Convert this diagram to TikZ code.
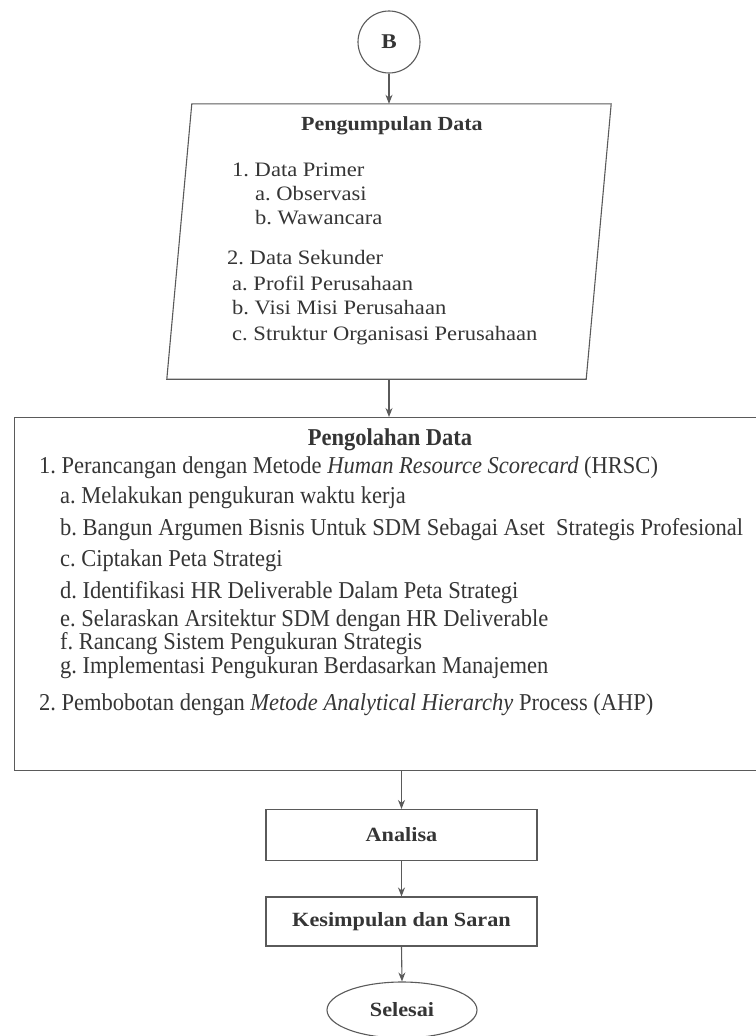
\documentclass[tikz,border=0pt]{standalone}
\usepackage{fontspec}
\setmainfont{Liberation Serif}
\newfontfamily\wideserif[FakeStretch=1.1]{Liberation Serif}
\newfontfamily\narrowserif[FakeStretch=0.93]{Liberation Serif}
\usetikzlibrary{arrows.meta,calc,shapes.geometric}
\definecolor{linec}{HTML}{5A5A5A}
\definecolor{textc}{HTML}{353535}
\frenchspacing
\tikzset{
  every node/.style={text=textc},
  arr/.style={draw=linec, line width=1.1pt, -{Stealth[length=9pt,width=7pt]}},
  frame/.style={draw=linec, line width=1.1pt},
  wtext/.style={font=\wideserif\fontsize{20.5}{23}\selectfont, anchor=base west, inner sep=0pt},
  wtitle/.style={font=\wideserif\bfseries\fontsize{20}{23}\selectfont, inner sep=0pt},
  btext/.style={font=\narrowserif\fontsize{24.2}{28}\selectfont, anchor=base west, inner sep=0pt},
  btitle/.style={font=\narrowserif\bfseries\fontsize{24.2}{28}\selectfont, anchor=base, inner sep=0pt},
  procbox/.style={frame, minimum width=271pt, minimum height=50pt, inner sep=0pt,
    font=\wideserif\bfseries\fontsize{20.2}{23}\selectfont},
}
\begin{document}
\begin{tikzpicture}[x=1pt,y=-1pt]
\useasboundingbox (0,0) rectangle (755,1036);
% connector B
\node[circle, frame, minimum size=62pt, inner sep=0pt,
  font=\wideserif\bfseries\fontsize{21}{23}\selectfont] (b) at (389,42) {B};
% Pengumpulan data (parallelogram)
\node[minimum width=444pt, minimum height=275pt, inner sep=0pt] (pd) at (389,241.5) {};
\draw[frame] ($(pd.north west)+(25,0)$) -- (pd.north east) -- ($(pd.south east)+(-25,0)$) -- (pd.south west) -- cycle;
\node[wtitle, anchor=base] (pdt) at (392,130) {Pengumpulan Data};
\node[wtext] (p1) at (232,176) {1. Data Primer};
\node[wtext] (p1a) at (255,200) {a. Observasi};
\node[wtext] (p1b) at (255,224.5) {b. Wawancara};
\node[wtext] (p2) at (227,264.5) {2. Data Sekunder};
\node[wtext] (p2a) at (232,290) {a. Profil Perusahaan};
\node[wtext] (p2b) at (232,314) {b. Visi Misi Perusahaan};
\node[wtext] (p2c) at (232,340.5) {c. Struktur Organisasi Perusahaan};
% Pengolahan data
\node[frame, anchor=north west, minimum width=770pt, minimum height=353pt, inner sep=0pt] (pol) at (14,417) {};
\node[btitle] (polt) at (390,445) {Pengolahan Data};
\node[btext] (q1) at (39,473) {1. Perancangan dengan Metode \textit{Human Resource Scorecard} (HRSC)};
\node[btext] (qa) at (60,503) {a. Melakukan pengukuran waktu kerja};
\node[btext] (qb) at (60,535) {b. Bangun Argumen Bisnis Untuk SDM Sebagai Aset\ \ Strategis Profesional};
\node[btext] (qc) at (60,566) {c. Ciptakan Peta Strategi};
\node[btext] (qd) at (60,598) {d. Identifikasi HR Deliverable Dalam Peta Strategi};
\node[btext] (qe) at (60,626) {e. Selaraskan Arsitektur SDM dengan HR Deliverable};
\node[btext] (qf) at (60,649) {f. Rancang Sistem Pengukuran Strategis};
\node[btext] (qg) at (60,673) {g. Implementasi Pengukuran Berdasarkan Manajemen};
\node[btext] (q2) at (39,710) {2. Pembobotan dengan \textit{Metode Analytical Hierarchy} Process (AHP)};
% lower boxes
\node[procbox, minimum height=51pt] (an) at (401.5,835) {Analisa};
\node[procbox, minimum height=49pt] (ks) at (401.5,921.5) {Kesimpulan dan Saran};
\node[ellipse, frame, minimum width=150pt, minimum height=56pt, inner sep=0pt,
  font=\wideserif\bfseries\fontsize{20.2}{23}\selectfont] (sl) at (402,1010) {Selesai};
% connectors
\draw[arr] (b.south) -- (b.south |- pd.north);
\draw[arr] (pd.south) -- (pd.south |- pol.north);
\draw[arr] (an.north |- pol.south) -- (an.north);
\draw[arr] (an.south) -- (ks.north);
\draw[arr] (ks.south) -- (sl.north);
\end{tikzpicture}
\end{document}
